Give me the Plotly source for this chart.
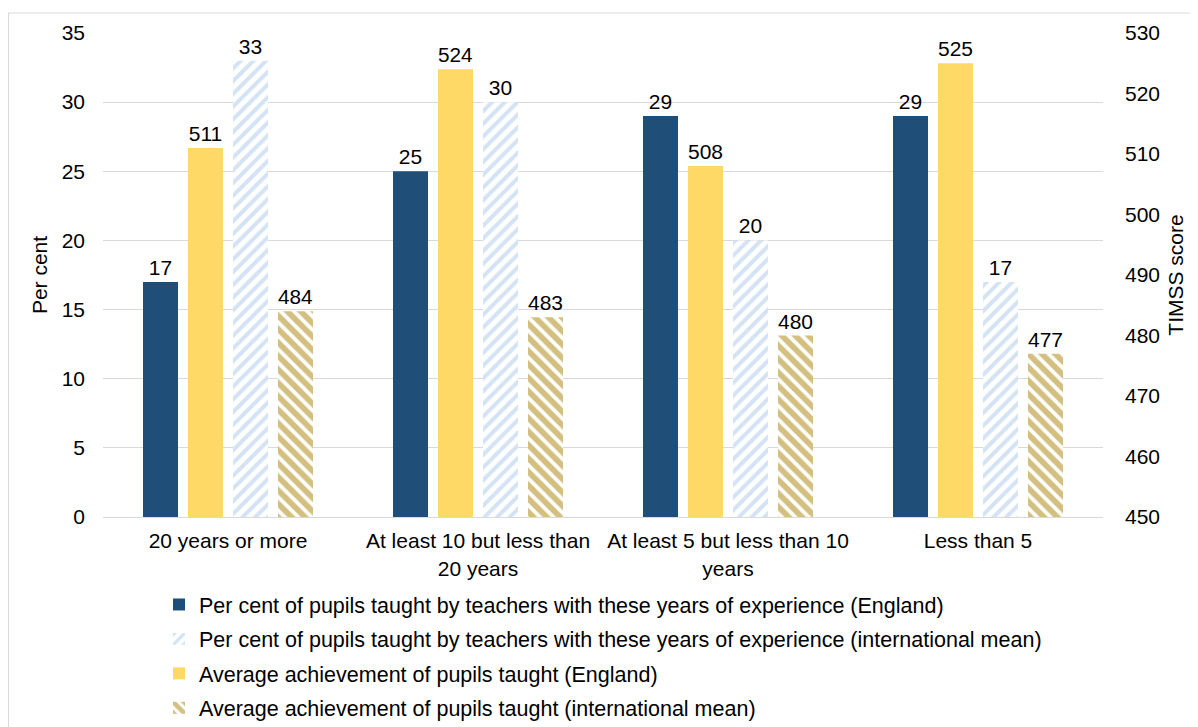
import plotly.graph_objects as go

categories = ["20 years or more", "At least 10 but less than<br>20 years",
              "At least 5 but less than 10<br>years", "Less than 5"]
pct_england = [17, 25, 29, 29]
pct_intl = [33, 30, 20, 17]
score_england = [511, 524, 508, 525]
score_intl = [484, 483, 480, 477]

names = [
    "Per cent of pupils taught by teachers with these years of experience (England)",
    "Per cent of pupils taught by teachers with these years of experience (international mean)",
    "Average achievement of pupils taught (England)",
    "Average achievement of pupils taught (international mean)",
]

FONT = "Liberation Sans, Arial, sans-serif"
FS = 21
W = 0.14
STEP = 0.18
START = -0.34

L, R, T, B = 95, 103, 25, 218
PW = 1198 - L - R
PH = 727 - T - B

fig = go.Figure()

def add(vals, name, pos, axis, color, pattern=None):
    marker = dict(color=color, line=dict(width=0))
    if pattern:
        marker = dict(color="white", line=dict(width=0), pattern=pattern)
    fig.add_trace(go.Bar(
        x=categories, y=vals, name=name, yaxis=axis,
        width=W, offset=START + pos * STEP,
        marker=marker,
        text=[str(v) for v in vals], textposition="outside",
        textfont=dict(size=FS, color="#000000", family=FONT),
        cliponaxis=False, legendgroup=name,
    ))

add(pct_england, names[0], 0, "y", "#1F4E79")
add(pct_intl, names[1], 2, "y", "#BDD7EE",
    pattern=dict(shape="/", fgcolor="#A9C8E9", bgcolor="white", size=9, solidity=0.45))
add(score_england, names[2], 1, "y2", "#FFD966")
add(score_intl, names[3], 3, "y2", "#BF9000",
    pattern=dict(shape="\\", fgcolor="#A87F00", bgcolor="white", size=9.5, solidity=0.6))

fig.update_layout(
    width=1198, height=727,
    margin=dict(l=L, r=R, t=T, b=B, autoexpand=False),
    paper_bgcolor="white", plot_bgcolor="white",
    barmode="overlay",
    font=dict(family=FONT, size=FS, color="#000000"),
    showlegend=True,
    legend=dict(x=(151 - L) / PW, y=(T + PH - 576) / PH, xanchor="left", yanchor="top",
                orientation="v", font=dict(size=21.5, family=FONT),
                tracegroupgap=3.5, itemwidth=30),
    xaxis=dict(showline=True, linecolor="#D9D9D9", linewidth=1,
               tickfont=dict(size=FS), ticks="", showgrid=False,
               ticklabelstandoff=5),
    yaxis=dict(range=[0, 35], dtick=5, showgrid=True, gridcolor="#D9D9D9",
               zeroline=False, showline=False, tickfont=dict(size=FS),
               title=dict(text="Per cent", font=dict(size=FS), standoff=8),
               ticklabelstandoff=17),
    yaxis2=dict(range=[450, 530], dtick=10, overlaying="y", side="right",
                showgrid=False, zeroline=False, showline=False,
                tickfont=dict(size=FS),
                title=dict(text="TIMSS score", font=dict(size=FS), standoff=9),
                ticklabelstandoff=21),
)

fig.add_shape(type="rect", xref="paper", yref="paper",
              x0=(0.5 - L) / PW, x1=1.3,
              y0=-0.6, y1=(T + PH - 5) / PH,
              line=dict(color="#D9D9D9", width=1), fillcolor="rgba(0,0,0,0)",
              layer="below")

fig.write_html("out.html")
